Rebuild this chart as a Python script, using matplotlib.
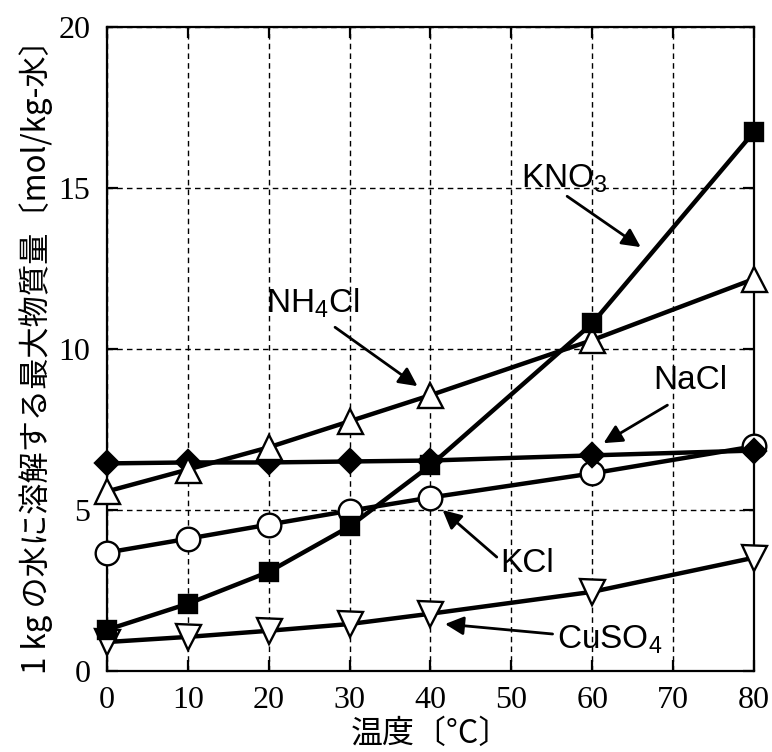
import matplotlib
matplotlib.use("Agg")
import matplotlib.pyplot as plt

plt.rcParams['mathtext.fontset'] = 'custom'
plt.rcParams['mathtext.rm'] = 'Liberation Sans'
plt.rcParams['mathtext.it'] = 'Liberation Sans'

temps = [0, 10, 20, 30, 40, 60, 80]
kno3 = [1.28, 2.09, 3.08, 4.49, 6.39, 10.8, 16.75]
nh4cl = [5.58, 6.26, 6.95, 7.76, 8.57, 10.28, 12.18]
nacl = [6.45, 6.48, 6.48, 6.51, 6.54, 6.70, 6.85]
kcl = [3.68, 4.11, 4.55, 4.98, 5.39, 6.14, 6.98]
cuso4 = [0.90, 1.06, 1.25, 1.46, 1.78, 2.46, 3.52]

xticks = [0, 10, 20, 30, 40, 50, 60, 70, 80]
yticks = [0, 5, 10, 15, 20]

fig = plt.figure(figsize=(7.72, 7.52), dpi=100)
ax = fig.add_axes([0.1386, 0.1077, 0.838, 0.856])

common = dict(color='black', lw=3.2, mew=1.7, mec='black', clip_on=False)
ax.plot(temps, cuso4, marker='v', ms=18, mfc='white', zorder=3, **common)
ax.plot(temps, kcl, marker='o', ms=17, mfc='white', zorder=4, **common)
ax.plot(temps, nacl, marker='D', ms=12.5, mfc='black', zorder=5, **common)
ax.plot(temps, nh4cl, marker='^', ms=18, mfc='white', zorder=6, **common)
ax.plot(temps, kno3, marker='s', ms=12.5, mfc='black', zorder=7, **common)

ax.set_xlim(0, 80)
ax.set_ylim(0, 20)
ax.set_xticks(xticks)
ax.set_yticks(yticks)
ax.grid(True, color='black', linestyle=(0, (4, 3)), lw=1)
ax.set_axisbelow(True)
for s in ax.spines.values():
    s.set_linewidth(1.6)
ax.tick_params(direction='in', length=8, width=1.6, top=True, right=True,
               labelsize=23)
ax.tick_params(axis='x', pad=11)
ax.tick_params(axis='y', pad=12)
for lab in ax.get_xticklabels() + ax.get_yticklabels():
    lab.set_fontfamily('Liberation Serif')

cjk = ['Noto Sans CJK JP', 'DejaVu Sans']
ax.set_xlabel('温度〔°C〕', fontsize=23, family=cjk, labelpad=2)
ax.set_ylabel('1 kg の水に溶解する最大物質量〔mol/kg-水〕', fontsize=22.5,
              family=cjk, labelpad=4)

arrow = dict(arrowstyle='-|>', color='black', lw=2, mutation_scale=28,
             shrinkA=0, shrinkB=0)
lab_kw = dict(fontsize=24, family='Liberation Sans', ha='center', va='center')

ax.text(56.6, 15.3, r'KNO$_\mathregular{3}$', **lab_kw)
ax.annotate('', xy=(66.0, 13.17), xytext=(56.9, 14.75), arrowprops=arrow)

ax.text(25.5, 11.43, r'NH$_\mathregular{4}$Cl', **lab_kw)
ax.annotate('', xy=(38.4, 8.85), xytext=(28.2, 10.68), arrowprops=arrow)

ax.text(72.1, 9.04, 'NaCl', **lab_kw)
ax.annotate('', xy=(61.4, 7.08), xytext=(69.3, 8.26), arrowprops=arrow)

ax.text(51.9, 3.35, 'KCl', **lab_kw)
ax.annotate('', xy=(41.5, 5.0), xytext=(48.2, 3.54), arrowprops=arrow)

ax.text(62.2, 0.96, r'CuSO$_\mathregular{4}$', **lab_kw)
ax.annotate('', xy=(41.8, 1.46), xytext=(55.1, 1.15), arrowprops=arrow)

fig.savefig('out.png', dpi=100)
